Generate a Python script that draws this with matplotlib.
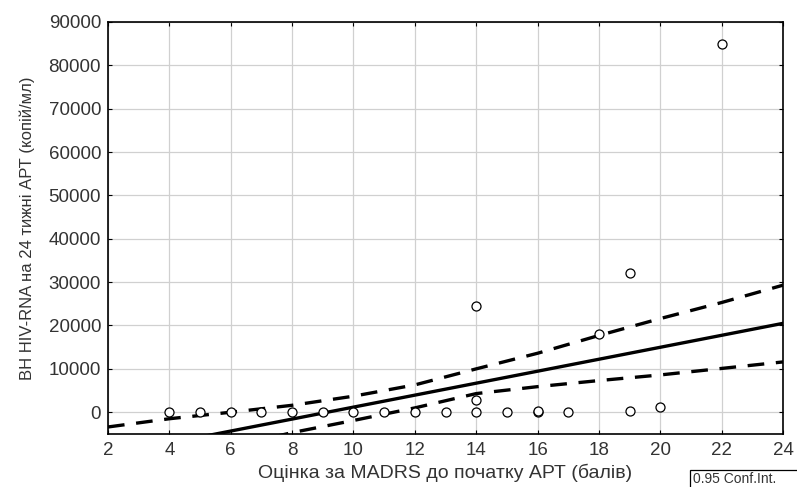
import matplotlib.pyplot as plt
from matplotlib.patches import Rectangle

# scatter points (MADRS score, viral load)
madrs = [4, 5, 6, 7, 8, 9, 10, 11, 12, 13, 14, 14, 14, 15, 16, 16, 17, 18, 19, 19, 20, 22]
viral = [0, 0, 0, 0, 0, 0, 0, 0, 0, 0, 0, 2800, 24500, 0, 0, 300, 0, 18000, 32000, 300, 1300, 85000]

# regression line, read at its two ends
fit_x = [2, 24]
fit_y = [-9860, 20500]

# 0.95 confidence band
ci_x = [2, 4, 6, 8, 10, 12, 14, 16, 18, 20, 22, 24]
ci_upper = [-3400, -1500, 0, 1600, 3700, 6300, 10000, 13600, 17700, 21600, 25300, 29300]
ci_lower = [-16000, -12000, -8000, -4700, -1900, 1000, 4300, 5900, 7300, 8600, 10100, 11600]

xticks = list(range(2, 25, 2))
yticks = list(range(0, 90001, 10000))

plt.rcParams['font.family'] = ['Liberation Sans', 'DejaVu Sans']

fig = plt.figure(figsize=(7.97, 4.87), dpi=100)
ax = fig.add_axes([0.1355, 0.109, 0.847, 0.846])

ax.plot(fit_x, fit_y, color='black', lw=2.4, zorder=3)
ax.plot(ci_x, ci_upper, color='black', lw=2.4, ls=(0, (5, 3.5)), zorder=3)
ax.plot(ci_x, ci_lower, color='black', lw=2.4, ls=(0, (5, 3.5)), zorder=3)
ax.plot(madrs, viral, 'o', mfc='white', mec='black', ms=6.5, mew=0.9, zorder=4)

ax.set_xlim(2, 24)
ax.set_ylim(-5000, 90000)
ax.set_xticks(xticks)
ax.set_yticks(yticks)
ax.grid(True, color='#d0d0d0', lw=0.9)
ax.set_axisbelow(True)
ax.tick_params(direction='in', top=True, right=True, length=3, labelsize=13.5,
               labelcolor='#333333')
ax.tick_params(axis='x', pad=6)
ax.tick_params(axis='y', pad=5)
for s in ax.spines.values():
    s.set_linewidth(1.2)

ax.set_xlabel('Оцінка за MADRS до початку АРТ (балів)', fontsize=14, labelpad=3, color='#333333')
ax.set_ylabel('ВН HIV-RNA на 24 тижні АРТ (копій/мл)', fontsize=12, labelpad=10, color='#333333')

fig.patches.append(Rectangle((0.866, -0.01), 0.14, 0.045, transform=fig.transFigure,
                             fill=False, edgecolor='black', lw=0.9))
fig.text(0.87, 0.002, '0.95 Conf.Int.', fontsize=10, va='bottom', ha='left', color='#333333')

fig.savefig('out.png', dpi=100)
